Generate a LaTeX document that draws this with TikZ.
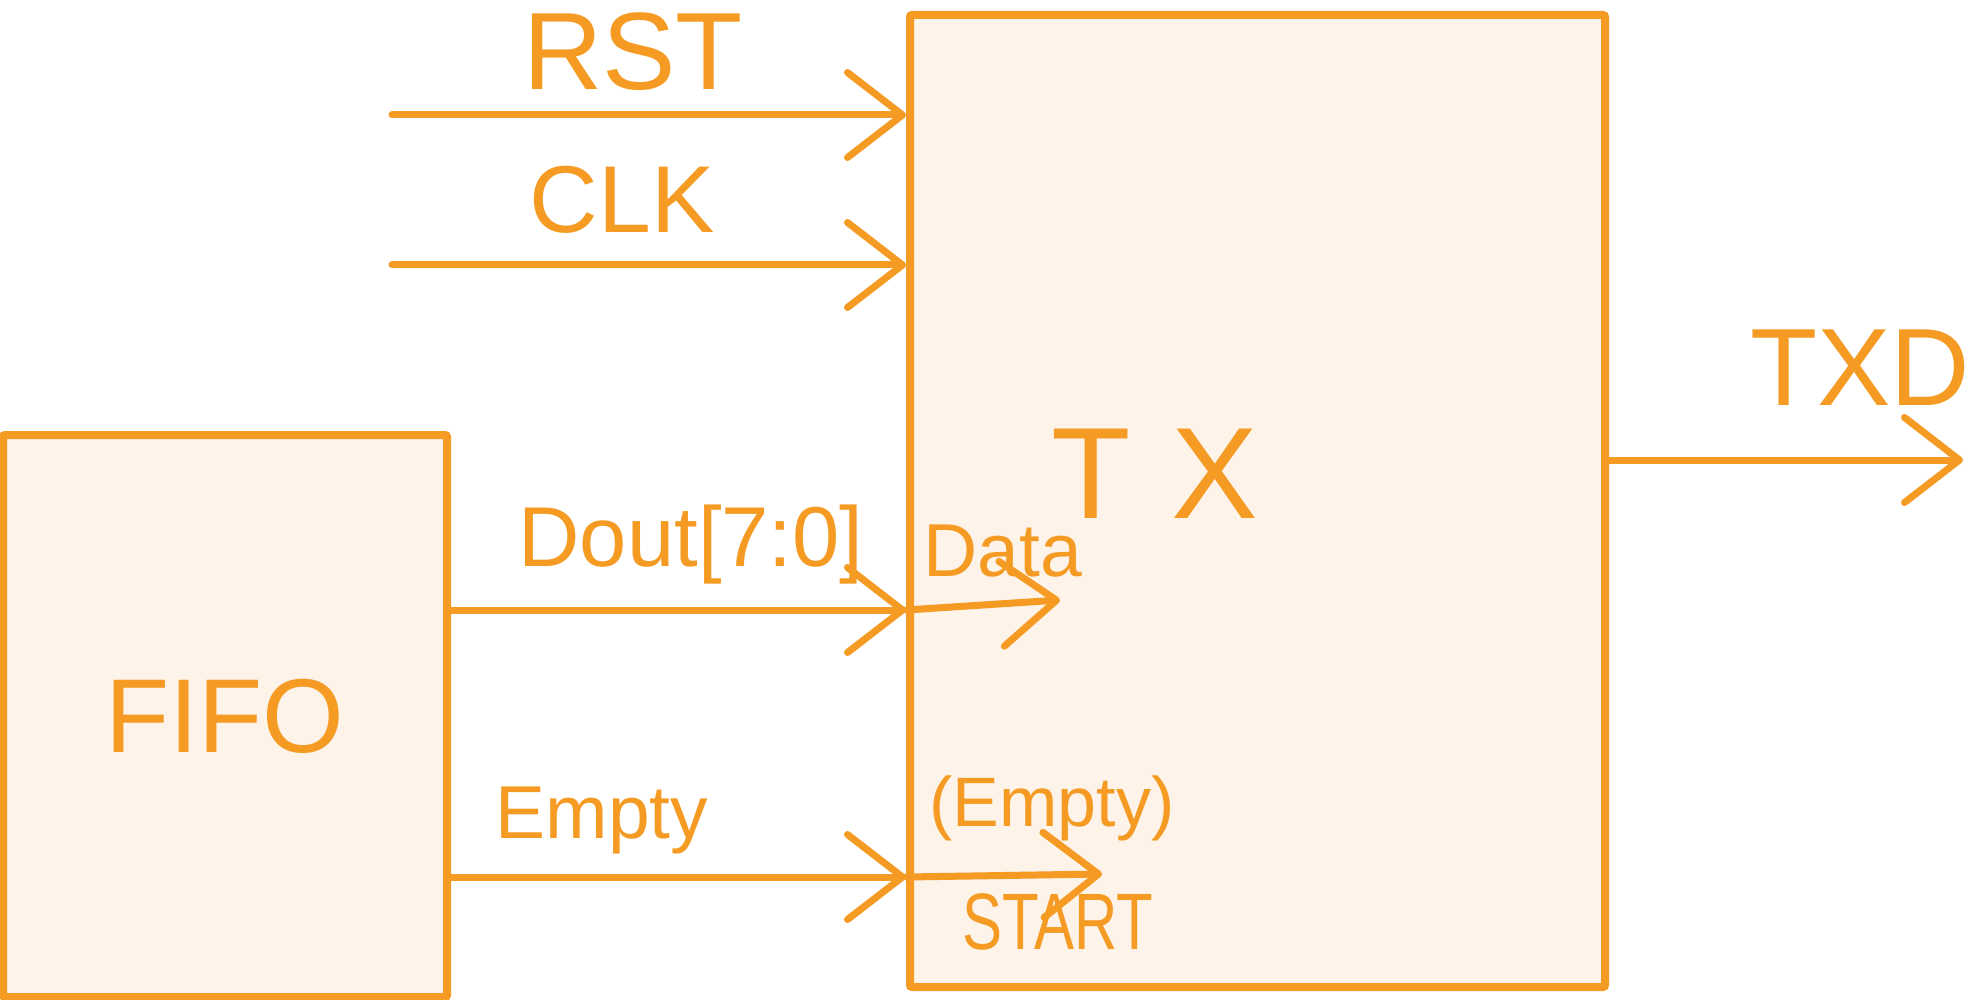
\documentclass[tikz,border=0pt]{standalone}
\usepackage{fontspec}
\setmainfont{Liberation Sans}
\usetikzlibrary{arrows.meta}
\definecolor{ink}{RGB}{245,155,35}
\definecolor{paper}{RGB}{253,243,232}
\tikzset{
  blockbox/.style={draw=ink, fill=paper, line width=8pt, rounded corners=2pt, inner sep=0pt},
  sig/.style={draw=ink, line width=7pt, line cap=round, line join=round,
    -{Straight Barb[length=55pt,width=85pt,round]}},
  lbl/.style={text=ink, inner sep=0pt},
}
\begin{document}
\begin{tikzpicture}[x=1pt,y=-1pt]
\useasboundingbox[fill=white] (0,0) rectangle (1971,1000);
% blocks
\node[blockbox, minimum width=695pt, minimum height=972pt] (tx) at (1257.5,501) {};
\node[blockbox, minimum width=444pt, minimum height=562pt, text=ink,
      font=\fontsize{105}{105}\selectfont] (fifo) at (225,716) {FIFO};
% connector ends
\coordinate (rstS) at (392,115);
\coordinate (clkS) at (392,265);
\coordinate (outS) at (447,610);
\coordinate (dataE) at (1060,600);
\coordinate (empS) at (447,877);
\coordinate (empE) at (1102,874);
\coordinate (txdE) at (1963,460);
% connectors
\draw[sig] (rstS) -- (rstS -| tx.west);
\draw[sig] (clkS) -- (clkS -| tx.west);
\draw[sig] (outS) -- (outS -| tx.west);
\draw[sig] (outS -| tx.west) -- (dataE);
\draw[sig] (empS) -- (empS -| tx.west);
\draw[sig] (empS -| tx.west) -- (empE);
\draw[sig] (tx.east |- txdE) -- (txdE);
% labels
\node[lbl, font=\fontsize{110}{110}\selectfont] (rst) at (633,52) {RST};
\node[lbl, font=\fontsize{95}{95}\selectfont] (clk) at (622,200) {CLK};
\node[lbl, font=\fontsize{85}{85}\selectfont] (out) at (691,545) {Dout[7:0]};
\node[lbl, font=\fontsize{75}{75}\selectfont] (data) at (1003,551) {Data};
\node[lbl, font=\fontsize{130}{130}\selectfont] (txname) at (1155,474) {T\hspace{40pt}X};
\node[lbl, font=\fontsize{110}{110}\selectfont] (txd) at (1860,368) {TXD};
\node[lbl, font=\fontsize{75}{75}\selectfont] (empty) at (602,820) {Empty};
\node[lbl, font=\fontsize{70}{70}\selectfont] (nempty) at (1052,808) {(Empty)};
\node[lbl, font=\fontsize{80}{80}\selectfont] (start) at (1058,922) {\scalebox{0.75}[1]{START}};
\end{tikzpicture}
\end{document}
